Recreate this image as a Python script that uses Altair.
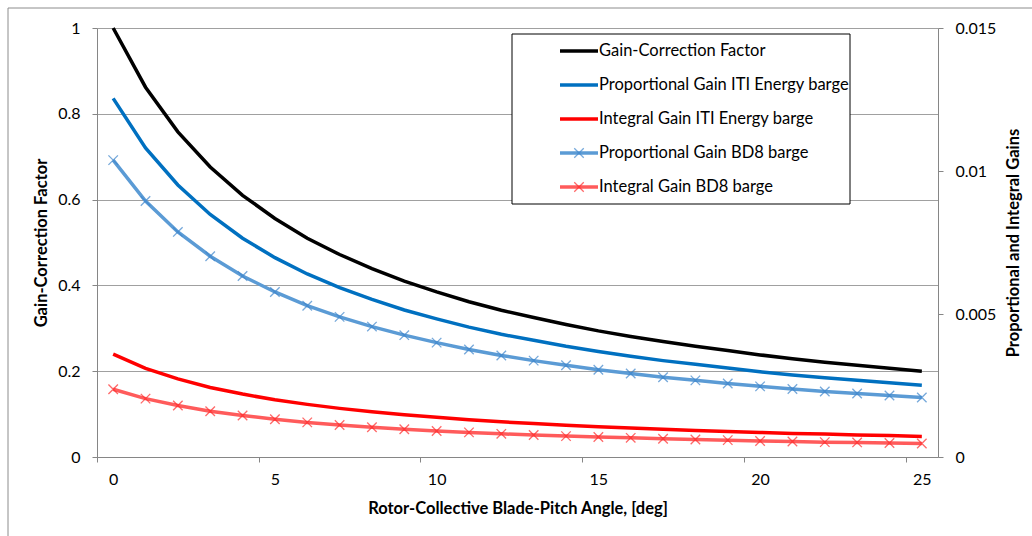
import altair as alt
import pandas as pd

# ---- data ----
pitch = list(range(0, 26))
gain_correction = [1.000, 0.862, 0.758, 0.676, 0.610, 0.556, 0.510, 0.472, 0.439, 0.410,
                   0.385, 0.362, 0.342, 0.325, 0.309, 0.294, 0.281, 0.269, 0.258, 0.248,
                   0.238, 0.229, 0.221, 0.214, 0.207, 0.200]
prop_iti = [0.01254, 0.01081, 0.00951, 0.00848, 0.00765, 0.00697, 0.00640, 0.00592, 0.00551, 0.00514,
            0.00483, 0.00454, 0.00429, 0.00408, 0.00387, 0.00369, 0.00352, 0.00337, 0.00324, 0.00311,
            0.00298, 0.00287, 0.00277, 0.00268, 0.00260, 0.00251]
int_iti = [0.00360, 0.00310, 0.00273, 0.00243, 0.00220, 0.00200, 0.00184, 0.00170, 0.00158, 0.00148,
           0.00139, 0.00130, 0.00123, 0.00117, 0.00111, 0.00106, 0.00101, 0.00097, 0.00093, 0.00089,
           0.00086, 0.00082, 0.00080, 0.00077, 0.00075, 0.00072]
prop_bd8 = [0.01038, 0.00895, 0.00787, 0.00702, 0.00633, 0.00577, 0.00529, 0.00490, 0.00456, 0.00426,
            0.00400, 0.00376, 0.00355, 0.00337, 0.00321, 0.00305, 0.00292, 0.00279, 0.00268, 0.00257,
            0.00247, 0.00238, 0.00229, 0.00222, 0.00215, 0.00208]
int_bd8 = [0.00237, 0.00204, 0.00180, 0.00160, 0.00145, 0.00132, 0.00121, 0.00112, 0.00104, 0.00097,
           0.00091, 0.00086, 0.00081, 0.00077, 0.00073, 0.00070, 0.00067, 0.00064, 0.00061, 0.00059,
           0.00056, 0.00054, 0.00052, 0.00051, 0.00049, 0.00047]

series_names = ["Gain-Correction Factor", "Proportional Gain ITI Energy barge",
                "Integral Gain ITI Energy barge", "Proportional Gain BD8 barge",
                "Integral Gain BD8 barge"]
line_colors = ["#000000", "#0070C0", "#FF0000", "#5B9BD5", "#FF5B5B"]
marker_colors = [None, None, None, "#3D85CC", "#FF2A2A"]

x_ticks = [0, 5, 10, 15, 20, 25]
left_ticks = [0, 0.2, 0.4, 0.6, 0.8, 1.0]
right_ticks = [0, 0.005, 0.01, 0.015]

FONT = "Lato"
W, H = 841, 429
half_cat = W / 26 / 2
X_SHAPE = "M-1,-1L1,1M1,-1L-1,1"

left_df = pd.DataFrame({"pitch": pitch, "val": gain_correction})
right_df = pd.concat([
    pd.DataFrame({"pitch": pitch, "val": v, "series": n})
    for n, v in zip(series_names[1:], [prop_iti, int_iti, prop_bd8, int_bd8])
], ignore_index=True)

x_axis = alt.Axis(values=x_ticks, title="Rotor-Collective Blade-Pitch Angle, [deg]",
                  grid=False, tickOffset=-half_cat, labelOffset=half_cat,
                  tickSize=5, labelPadding=9, titleX=W / 2, titleY=51,
                  titleBaseline="middle", titleAlign="center")
x_enc = alt.X("pitch:Q", scale=alt.Scale(domain=[-0.5, 25.5], nice=False, zero=False),
              axis=x_axis)

left_line = alt.Chart(left_df).mark_line(color="#000000", strokeWidth=3.5).encode(
    x=x_enc,
    y=alt.Y("val:Q", scale=alt.Scale(domain=[0, 1], nice=False),
            axis=alt.Axis(values=left_ticks, title="Gain-Correction Factor", grid=True,
                          labelExpr="format(datum.value, '~g')", tickSize=5, labelPadding=12,
                          titleX=-56, titleY=H / 2, titleAngle=270, titleBaseline="middle",
                          titleAlign="center")),
)

right_axis = alt.Axis(values=right_ticks, title="Proportional and Integral Gains", grid=False,
                      labelExpr="format(datum.value, '~g')", tickSize=5, labelPadding=12,
                      titleX=75, titleY=H / 2, titleAngle=270, titleBaseline="middle",
                      titleAlign="center", orient="right")
y_right = alt.Y("val:Q", scale=alt.Scale(domain=[0, 0.015], nice=False), axis=right_axis)

right_lines = alt.Chart(right_df).mark_line(strokeWidth=3.5).encode(
    x=x_enc, y=y_right,
    color=alt.Color("series:N", scale=alt.Scale(domain=series_names[1:], range=line_colors[1:]),
                    legend=None),
    detail="series:N",
)
pts_blue = alt.Chart(right_df).transform_filter(
    alt.datum.series == series_names[3]
).mark_point(shape=X_SHAPE, size=90, filled=False, strokeWidth=1.3,
             color=marker_colors[3]).encode(x=x_enc, y=y_right)
pts_red = alt.Chart(right_df).transform_filter(
    alt.datum.series == series_names[4]
).mark_point(shape=X_SHAPE, size=90, filled=False, strokeWidth=1.3,
             color=marker_colors[4]).encode(x=x_enc, y=y_right)

right = alt.layer(right_lines, pts_blue, pts_red)

# ---- legend box (manual) ----
leg_df = pd.DataFrame({"name": series_names, "color": line_colors,
                       "idx": list(range(5)),
                       "marker": [c if c else "" for c in marker_colors]})
leg_base = alt.Chart(leg_df).transform_calculate(py="23 + 34 * datum.idx")
leg_box = alt.Chart(pd.DataFrame({"a": [0]})).mark_rect(
    fill="white", stroke="#000000", strokeWidth=1
).encode(x=alt.value(415), x2=alt.value(753), y=alt.value(6), y2=alt.value(176))
leg_lines = leg_base.mark_rule(strokeWidth=3.5).encode(
    x=alt.value(463), x2=alt.value(501),
    y=alt.Y("py:Q", scale=None, axis=None),
    color=alt.Color("color:N", scale=None, legend=None),
)
leg_pts = leg_base.transform_filter("datum.marker != ''").mark_point(
    shape=X_SHAPE, size=90, filled=False, strokeWidth=1.3
).encode(
    x=alt.value(482),
    y=alt.Y("py:Q", scale=None, axis=None),
    color=alt.Color("marker:N", scale=None, legend=None),
)
leg_text = leg_base.mark_text(align="left", baseline="middle", font=FONT, fontSize=16.5,
                              color="#000000").encode(
    x=alt.value(502),
    y=alt.Y("py:Q", scale=None, axis=None),
    text="name:N",
)

# outer chart border
border = alt.Chart(pd.DataFrame({"a": [0]})).mark_rect(
    fill=None, stroke="#8C8C8C", strokeWidth=1
).encode(x=alt.value(-89), x2=alt.value(1100), y=alt.value(-20), y2=alt.value(700))

chart = alt.layer(border, left_line, right, leg_box, leg_lines, leg_pts, leg_text).resolve_scale(
    y="independent", color="independent"
).properties(
    width=W, height=H,
    padding={"left": 97, "top": 28, "right": 94, "bottom": 79},
    autosize="none",
    background="white",
).configure_view(
    stroke=None
).configure_axis(
    labelFont=FONT, titleFont=FONT, labelFontSize=16, titleFontSize=16.5,
    titleFontWeight="bold", labelColor="#000000", titleColor="#000000",
    domainColor="#868686", tickColor="#868686", gridColor="#A0A0A0",
    domainWidth=1, tickWidth=1, gridWidth=1,
)

chart.save("out.html", embed_options={"renderer": "svg", "actions": False})
